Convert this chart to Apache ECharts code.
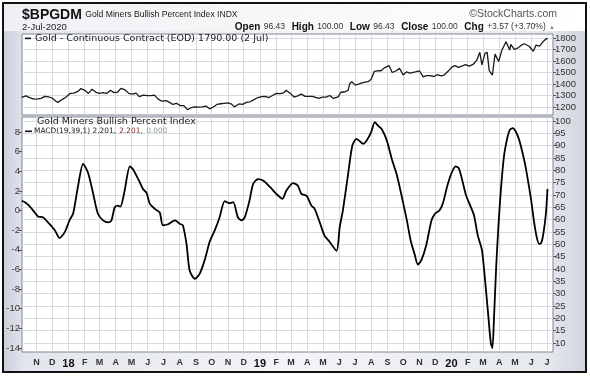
<!DOCTYPE html>
<html><head><meta charset="utf-8">
<script src="https://cdn.jsdelivr.net/npm/echarts@6/dist/echarts.min.js"></script>
<style>html,body{margin:0;padding:0;background:#fff}#c{width:590px;height:377px}</style>
</head><body><div id="c"></div>
<script>
const goldDates = ['2017-10-04','2017-10-12','2017-10-19','2017-10-27','2017-11-03','2017-11-10','2017-11-17','2017-11-24','2017-12-01','2017-12-08','2017-12-12','2017-12-19','2017-12-27','2018-01-04','2018-01-11','2018-01-19','2018-01-25','2018-02-01','2018-02-08','2018-02-15','2018-02-22','2018-03-01','2018-03-08','2018-03-15','2018-03-22','2018-03-29','2018-04-05','2018-04-11','2018-04-19','2018-04-26','2018-05-03','2018-05-10','2018-05-16','2018-05-24','2018-05-31','2018-06-07','2018-06-14','2018-06-21','2018-06-28','2018-07-06','2018-07-13','2018-07-19','2018-07-26','2018-08-02','2018-08-09','2018-08-16','2018-08-23','2018-08-30','2018-09-06','2018-09-13','2018-09-20','2018-09-27','2018-10-04','2018-10-11','2018-10-18','2018-10-25','2018-11-01','2018-11-08','2018-11-13','2018-11-22','2018-11-29','2018-12-06','2018-12-13','2018-12-20','2018-12-28','2019-01-04','2019-01-11','2019-01-18','2019-01-25','2019-02-01','2019-02-08','2019-02-15','2019-02-20','2019-02-28','2019-03-07','2019-03-14','2019-03-21','2019-03-28','2019-04-04','2019-04-11','2019-04-23','2019-04-30','2019-05-07','2019-05-14','2019-05-21','2019-05-30','2019-06-04','2019-06-11','2019-06-18','2019-06-21','2019-06-25','2019-07-02','2019-07-09','2019-07-16','2019-07-19','2019-07-26','2019-08-01','2019-08-07','2019-08-13','2019-08-20','2019-08-26','2019-09-04','2019-09-10','2019-09-17','2019-09-24','2019-10-01','2019-10-07','2019-10-14','2019-10-24','2019-11-01','2019-11-08','2019-11-14','2019-11-21','2019-11-29','2019-12-05','2019-12-12','2019-12-18','2019-12-27','2020-01-03','2020-01-08','2020-01-14','2020-01-22','2020-01-28','2020-02-04','2020-02-11','2020-02-18','2020-02-24','2020-02-28','2020-03-05','2020-03-09','2020-03-13','2020-03-19','2020-03-24','2020-03-31','2020-04-06','2020-04-14','2020-04-21','2020-04-23','2020-04-30','2020-05-07','2020-05-14','2020-05-19','2020-05-28','2020-06-05','2020-06-10','2020-06-17','2020-06-24','2020-06-30','2020-07-02'];
const goldValues = [1284,1296,1282,1268,1270,1275,1292,1288,1278,1250,1240,1262,1285,1318,1320,1335,1360,1345,1318,1355,1330,1318,1324,1318,1345,1325,1330,1362,1348,1318,1312,1320,1290,1303,1298,1298,1303,1268,1250,1255,1240,1222,1232,1212,1212,1176,1195,1200,1198,1201,1208,1184,1200,1222,1228,1232,1235,1225,1201,1226,1222,1240,1245,1262,1282,1290,1292,1282,1300,1318,1316,1322,1346,1318,1286,1296,1312,1292,1292,1292,1274,1285,1285,1300,1274,1288,1328,1330,1345,1400,1420,1390,1400,1412,1427,1420,1442,1510,1515,1515,1540,1560,1500,1513,1536,1478,1505,1495,1505,1515,1462,1473,1472,1465,1482,1470,1478,1518,1552,1560,1545,1558,1568,1555,1570,1605,1676,1566,1668,1675,1516,1478,1660,1596,1693,1768,1695,1745,1700,1715,1740,1750,1728,1685,1738,1730,1770,1795,1790];

const macdDates = ['2017-10-04','2017-10-10','2017-10-16','2017-10-26','2017-11-04','2017-11-14','2017-11-23','2017-12-06','2017-12-15','2017-12-25','2018-01-03','2018-01-10','2018-01-19','2018-01-29','2018-02-07','2018-02-16','2018-02-26','2018-03-08','2018-03-18','2018-03-24','2018-03-30','2018-04-05','2018-04-10','2018-04-18','2018-04-28','2018-05-04','2018-05-14','2018-05-23','2018-05-30','2018-06-05','2018-06-14','2018-06-24','2018-06-30','2018-07-10','2018-07-23','2018-08-01','2018-08-07','2018-08-14','2018-08-20','2018-08-30','2018-09-08','2018-09-18','2018-09-27','2018-10-07','2018-10-16','2018-10-26','2018-11-04','2018-11-11','2018-11-20','2018-11-27','2018-12-03','2018-12-12','2018-12-19','2018-12-28','2019-01-07','2019-01-20','2019-02-01','2019-02-13','2019-02-20','2019-03-05','2019-03-14','2019-03-21','2019-03-31','2019-04-09','2019-04-15','2019-04-25','2019-05-04','2019-05-14','2019-05-27','2019-06-02','2019-06-08','2019-06-18','2019-06-26','2019-07-04','2019-07-17','2019-07-23','2019-08-01','2019-08-08','2019-08-14','2019-08-21','2019-08-31','2019-09-09','2019-09-19','2019-09-28','2019-10-08','2019-10-15','2019-10-23','2019-10-29','2019-11-05','2019-11-14','2019-11-24','2019-12-01','2019-12-09','2019-12-16','2019-12-24','2020-01-01','2020-01-09','2020-01-15','2020-01-21','2020-01-29','2020-02-05','2020-02-13','2020-02-20','2020-02-28','2020-03-04','2020-03-10','2020-03-16','2020-03-19','2020-03-22','2020-03-26','2020-03-30','2020-04-04','2020-04-10','2020-04-16','2020-04-21','2020-04-27','2020-05-03','2020-05-09','2020-05-14','2020-05-20','2020-05-26','2020-06-01','2020-06-06','2020-06-11','2020-06-16','2020-06-20','2020-06-24','2020-06-29','2020-07-02'];
const macdValues = [1.0,0.85,0.6,0.0,-0.6,-0.7,-1.2,-2.0,-2.8,-2.2,-1.0,-0.3,2.4,4.75,3.9,2.0,-0.3,-1.0,-1.2,-1.0,0.3,0.5,0.4,2.0,4.5,4.2,3.2,2.2,1.8,0.7,0.2,-0.2,-1.5,-1.4,-1.0,-1.35,-1.5,-3.4,-6.1,-6.95,-6.45,-5.0,-3.2,-2.0,-0.7,0.95,0.75,0.85,-0.7,-1.0,-0.7,1.0,2.7,3.2,3.05,2.4,1.7,1.2,2.0,2.8,2.55,1.7,1.5,0.5,0.2,-1.2,-2.55,-3.2,-4.1,-1.7,0.0,3.7,6.6,7.3,6.8,7.1,8.0,9.0,8.65,8.3,7.1,5.3,3.6,1.5,-1.0,-3.0,-4.5,-5.5,-5.0,-3.5,-1.0,-0.3,0.0,0.8,2.5,3.8,4.5,4.3,3.2,1.5,0.6,-0.5,-2.5,-4.0,-6.5,-10.0,-13.5,-14.0,-11.0,-6.0,-2.0,2.0,5.5,7.3,8.2,8.4,8.0,7.2,6.2,4.8,3.0,1.0,-1.0,-2.6,-3.4,-3.3,-2.4,-0.3,2.2];

const goldTicks = [1200,1300,1400,1500,1600,1700,1800];
const macdTicks = [8,6,4,2,0,-2,-4,-6,-8,-10,-12,-14];
const bpiTicks = [100,95,90,85,80,75,70,65,60,55,50,45,40,35,30,25,20,15,10];
const monthLabels = ['N','D','18','F','M','A','M','J','J','A','S','O','N','D','19','F','M','A','M','J','J','A','S','O','N','D','20','F','M','A','M','J','J'];
const firstMonthYear = 2017, firstMonthIndex = 10;

function ts(s) { const p = s.split('-').map(Number); return new Date(p[0], p[1] - 1, p[2]).getTime(); }
const monthTs = monthLabels.map((_, i) => new Date(firstMonthYear, firstMonthIndex + i, 1).getTime());
const labelOf = {};
monthTs.forEach((t, i) => labelOf[t] = monthLabels[i]);

const xMin = new Date(2017, 9, 4, 12).getTime();
const xMax = new Date(2020, 6, 12, 12).getTime();

const chart = echarts.init(document.getElementById('c'), null, {renderer: 'canvas'});
const gridLine = {show: true, lineStyle: {color: '#d5dae3', width: 1}};
const sans = 'Liberation Sans, Arial, sans-serif';
const verd = 'DejaVu Sans, Verdana, sans-serif';
const plain = v => String(v);

chart.setOption({
  animation: false,
  backgroundColor: '#fff',
  grid: [
    {left: 22, right: 37, top: 34, height: 81, show: true, backgroundColor: '#fff', borderColor: '#80858f', borderWidth: 1},
    {left: 22, right: 37, top: 117, height: 235, show: true, backgroundColor: '#fff', borderColor: '#80858f', borderWidth: 1}
  ],
  xAxis: [
    {type: 'value', gridIndex: 0, min: xMin, max: xMax, axisLine: {show: false},
     axisTick: {show: false, customValues: monthTs}, axisLabel: {show: false, customValues: monthTs}, splitLine: gridLine},
    {type: 'value', gridIndex: 1, min: xMin, max: xMax, axisLine: {show: false},
     axisTick: {show: false, customValues: monthTs},
     axisLabel: {show: true, customValues: monthTs, margin: 6, color: '#333', fontFamily: sans, fontWeight: 'bold', fontSize: 9,
       formatter: v => { const s = labelOf[v] || ''; return /\d/.test(s) ? '{y|' + s + '}' : s; },
       rich: {y: {fontFamily: sans, fontWeight: 'bold', fontSize: 11, color: '#111'}}},
     splitLine: gridLine}
  ],
  yAxis: [
    {type: 'value', gridIndex: 0, position: 'right', min: 1130, max: 1835, axisLine: {show: false},
     axisTick: {show: true, length: 3, lineStyle: {color: '#555'}, customValues: goldTicks},
     axisLabel: {customValues: goldTicks, formatter: plain, margin: 2, color: '#333', fontFamily: sans, fontSize: 9.5},
     splitLine: gridLine},
    {type: 'value', gridIndex: 1, position: 'left', min: -14.41, max: 9.53, axisLine: {show: false},
     axisTick: {show: true, length: 3, lineStyle: {color: '#555'}, customValues: macdTicks},
     axisLabel: {customValues: macdTicks, formatter: plain, margin: 2, color: '#333', fontFamily: sans, fontSize: 9.5},
     splitLine: {show: false}},
    {type: 'value', gridIndex: 1, position: 'right', min: 6.35, max: 101.6, axisLine: {show: false},
     axisTick: {show: true, length: 3, lineStyle: {color: '#555'}, customValues: bpiTicks},
     axisLabel: {customValues: bpiTicks, formatter: plain, margin: 2, color: '#333', fontFamily: sans, fontSize: 9.5},
     splitLine: gridLine}
  ],
  series: [
    {type: 'line', xAxisIndex: 0, yAxisIndex: 0, showSymbol: false, data: goldDates.map((d, i) => [ts(d), goldValues[i]]),
     lineStyle: {color: '#1a1a1a', width: 1.3}, z: 5},
    {type: 'line', xAxisIndex: 1, yAxisIndex: 1, showSymbol: false, smooth: 0.25, data: macdDates.map((d, i) => [ts(d), macdValues[i]]),
     lineStyle: {color: '#000', width: 1.8}, z: 5}
  ],
  graphic: [
    {type: 'rect', z: -20, shape: {x: 0, y: 0, width: 590, height: 377}, style: {fill: '#fff'}},
    {type: 'rect', z: -19, shape: {x: 3, y: 3, width: 583, height: 369},
     style: {fill: new echarts.graphic.LinearGradient(0, 0, 1, 0, [
       {offset: 0, color: '#c9cfd9'}, {offset: 0.04, color: '#e3e6ec'}, {offset: 0.5, color: '#f3f4f7'},
       {offset: 0.93, color: '#e6e9ee'}, {offset: 1, color: '#cfd4dd'}]), stroke: '#111', lineWidth: 2}},
    {type: 'rect', z: -18, shape: {x: 4, y: 4, width: 581, height: 27},
     style: {fill: new echarts.graphic.LinearGradient(0, 0, 1, 0, [
       {offset: 0, color: '#eef0f3'}, {offset: 1, color: '#ffffff'}])}},
    {type: 'text', z: 100, style: {x: 22, y: 15, textVerticalAlign: 'middle',
      text: '{a|$BPGDM} {b|Gold Miners Bullish Percent Index INDX}',
      rich: {a: {fontFamily: sans, fontWeight: 'bold', fontSize: 14, fill: '#111'}, b: {fontFamily: sans, fontSize: 8.6, fill: '#222'}}}},
    {type: 'text', z: 100, style: {x: 22, y: 27, textVerticalAlign: 'middle', text: '2-Jul-2020', fontFamily: sans, fontSize: 9.5, fill: '#222'}},
    {type: 'text', z: 100, style: {x: 557, y: 14, textAlign: 'right', textVerticalAlign: 'middle', text: '\u00A9StockCharts.com', fontFamily: sans, fontSize: 10.5, fill: '#555'}},
    {type: 'text', z: 100, style: {x: 555, y: 27, textAlign: 'right', textVerticalAlign: 'middle',
      text: '{l|Open} {v|96.43}  {l|High} {v|100.00}  {l|Low} {v|96.43}  {l|Close} {v|100.00}  {l|Chg} {v|+3.57 (+3.70%)} {t|\u25B2}',
      rich: {l: {fontFamily: sans, fontWeight: 'bold', fontSize: 10, fill: '#111'}, v: {fontFamily: sans, fontSize: 8.5, fill: '#333'}, t: {fontSize: 6, fill: '#888'}}}},
    {type: 'rect', z: 100, shape: {x: 25, y: 37.6, width: 6, height: 1.6}, style: {fill: '#111'}},
    {type: 'text', z: 100, style: {x: 35, y: 38.5, textVerticalAlign: 'middle', text: 'Gold - Continuous Contract (EOD) 1790.00 (2 Jul)', fontFamily: verd, fontSize: 9.5, fill: '#222'}},
    {type: 'text', z: 100, style: {x: 37, y: 122, textVerticalAlign: 'middle', text: 'Gold Miners Bullish Percent Index', fontFamily: verd, fontSize: 9.5, fill: '#222'}},
    {type: 'rect', z: 100, shape: {x: 25, y: 130.5, width: 7, height: 1.6}, style: {fill: '#111'}},
    {type: 'text', z: 100, style: {x: 34, y: 131.5, textVerticalAlign: 'middle',
      text: '{a|MACD(19,39,1) 2.201,} {b|2.201,} {c|0.000}',
      rich: {a: {fontFamily: verd, fontSize: 7.4, fill: '#222'}, b: {fontFamily: verd, fontSize: 7.4, fill: '#7a3030'}, c: {fontFamily: verd, fontSize: 7.4, fill: '#8aa396'}}}}
  ]
});
</script>
</body></html>
